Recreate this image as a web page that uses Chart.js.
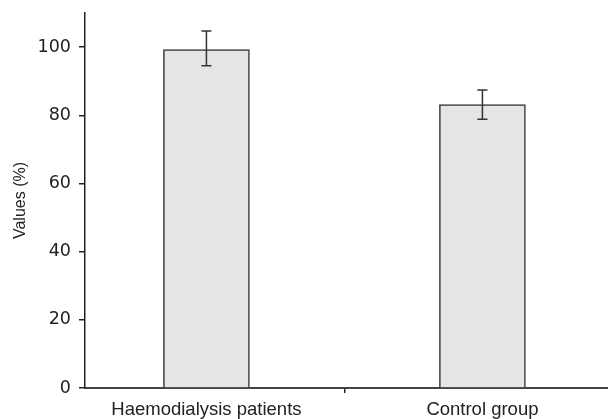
<!DOCTYPE html>
<html>
<head>
<meta charset="utf-8">
<script src="https://cdn.jsdelivr.net/npm/chart.js@4.4.1/dist/chart.umd.min.js"></script>
<style>
  html, body { margin: 0; padding: 0; background: #ffffff; }
  #wrap { width: 608px; height: 419px; }
</style>
</head>
<body>
<div id="wrap"><canvas id="c" width="608" height="419"></canvas></div>
<script>
// ---- data ----
const categories = ['Haemodialysis patients', 'Control group'];
const values = [99.3, 83.1];
const errLow = [94.5, 78.8];
const errHigh = [104.7, 87.4];
const yTicks = [0, 20, 40, 60, 80, 100];
const yTitle = 'Values (%)';

const points = values.map((v, i) => ({ x: i + 1, y: v }));
const dividerValue = 1.5;

const errorBars = {
  id: 'errorBars',
  afterDatasetsDraw(chart) {
    const ctx = chart.ctx;
    const ys = chart.scales.y;
    const meta = chart.getDatasetMeta(0);
    ctx.save();
    ctx.strokeStyle = '#333333';
    ctx.lineWidth = 1.5;
    meta.data.forEach((bar, i) => {
      const x = bar.x;
      const yTop = ys.getPixelForValue(errHigh[i]);
      const yBot = ys.getPixelForValue(errLow[i]);
      const cap = 5;
      ctx.beginPath();
      ctx.moveTo(x, yTop); ctx.lineTo(x, yBot);
      ctx.moveTo(x - cap, yTop); ctx.lineTo(x + cap, yTop);
      ctx.moveTo(x - cap, yBot); ctx.lineTo(x + cap, yBot);
      ctx.stroke();
    });
    ctx.restore();
  }
};

new Chart(document.getElementById('c'), {
  type: 'bar',
  data: {
    datasets: [{
      data: points,
      backgroundColor: '#e5e5e5',
      borderColor: '#333333',
      borderWidth: 1.5,
      barThickness: 86
    }]
  },
  options: {
    responsive: false,
    animation: false,
    devicePixelRatio: 1,
    layout: { padding: { top: 13, right: 0, left: 0, bottom: 0 } },
    plugins: { legend: { display: false }, tooltip: { enabled: false } },
    scales: {
      x: {
        type: 'linear',
        offset: false,
        min: 0.56,
        max: 2.455,
        afterBuildTicks(scale) {
          scale.ticks = [{ value: 1 }, { value: dividerValue }, { value: 2 }];
        },
        afterFit(scale) { scale.height = 31; },
        ticks: {
          autoSkip: false,
          maxRotation: 0,
          padding: 6,
          color: '#222222',
          font: { family: 'Liberation Sans', size: 18.5 },
          callback(value) {
            const idx = Math.round(value) - 1;
            return (Math.abs(value - Math.round(value)) < 1e-6 && categories[idx]) ? categories[idx] : '';
          }
        },
        grid: {
          offset: false,
          drawOnChartArea: false,
          tickLength: 5,
          lineWidth: 1.5,
          tickColor(ctx) {
            return ctx.tick && Math.abs(ctx.tick.value - dividerValue) < 1e-6 ? '#222222' : 'rgba(0,0,0,0)';
          }
        },
        border: { display: true, color: '#444444', width: 2 }
      },
      y: {
        min: 0,
        max: 110,
        afterBuildTicks(scale) {
          scale.ticks = yTicks.map(v => ({ value: v }));
        },
        afterFit(scale) { scale.width = 85; scale.paddingTop = 0; },
        ticks: {
          includeBounds: false,
          padding: 8,
          color: '#222222',
          font: { family: 'DejaVu Sans', size: 17.5 }
        },
        grid: {
          drawOnChartArea: false,
          tickLength: 6,
          lineWidth: 1.5,
          tickColor: '#222222'
        },
        border: { display: true, color: '#222222', width: 1.5 },
        title: {
          display: true,
          text: yTitle,
          color: '#222222',
          font: { family: 'Liberation Sans', size: 16 },
          padding: { top: 11, bottom: 0 }
        }
      }
    }
  },
  plugins: [errorBars]
});
</script>
</body>
</html>
